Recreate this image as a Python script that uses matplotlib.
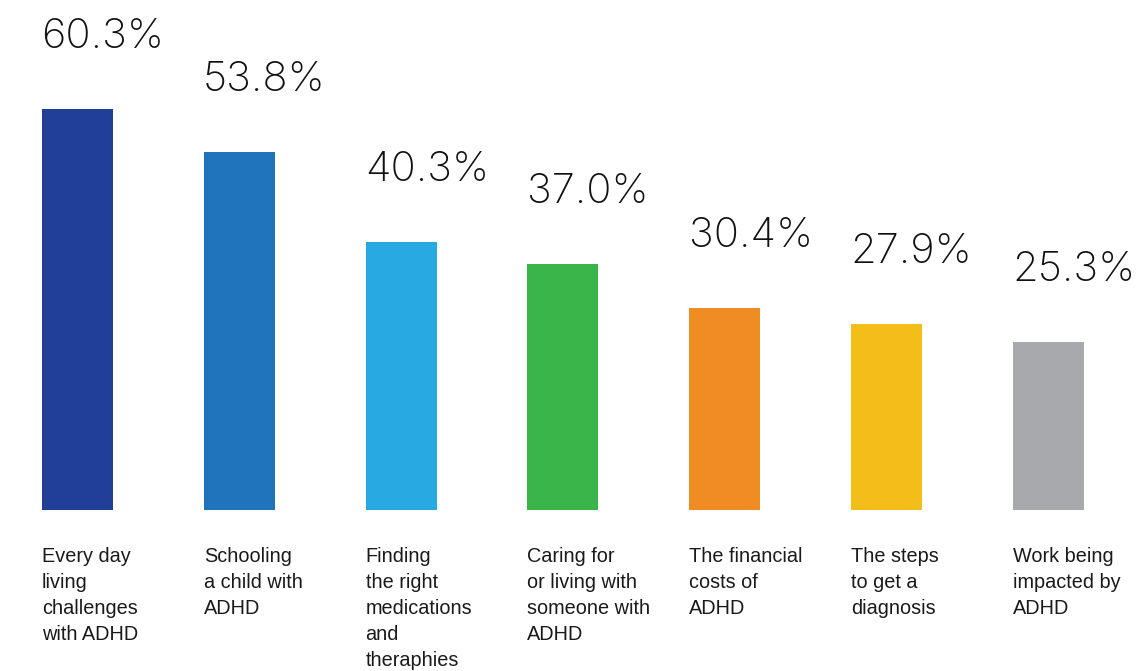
import matplotlib
matplotlib.use("Agg")
import matplotlib.pyplot as plt
import matplotlib.transforms as mtransforms

categories = [
    "Every day\nliving\nchallenges\nwith ADHD",
    "Schooling\na child with\nADHD",
    "Finding\nthe right\nmedications\nand\ntheraphies",
    "Caring for\nor living with\nsomeone with\nADHD",
    "The financial\ncosts of\nADHD",
    "The steps\nto get a\ndiagnosis",
    "Work being\nimpacted by\nADHD",
]
values = [60.3, 53.8, 40.3, 37.0, 30.4, 27.9, 25.3]
colors = ["#223F98", "#1F74BC", "#29A9E1", "#3AB54A", "#EF8C23", "#F3BE1A", "#A7A9AC"]

W, H = 1137, 671
fig = plt.figure(figsize=(W / 100, H / 100), dpi=100)

base_px = 510      # baseline of bars from top
top_scale = 6.65   # px per percent
spacing = 161.8
first_center = 77.5
bar_w = 71 / spacing

ax = fig.add_axes([0, (H - base_px) / H, 1, base_px / H])
ax.set_xlim(-first_center / spacing, (W - first_center) / spacing)
ax.set_ylim(0, base_px / top_scale)
ax.axis("off")

xs = list(range(len(values)))
ax.bar(xs, values, width=bar_w, color=colors, align="center")

for x, v in zip(xs, values):
    ax.annotate(f"{v:.1f}%", xy=(x - bar_w / 2, v), xytext=(-0.5, 61 * 0.72),
                textcoords="offset points", ha="left", va="baseline",
                fontsize=30.0, family="Inter", fontweight=200, color="#111111")

trans = mtransforms.blended_transform_factory(ax.transData, ax.transAxes)
for x, lab in zip(xs, categories):
    ax.text(x - bar_w / 2, -37 / base_px, lab, transform=trans, ha="left", va="top",
            fontsize=14.3, family="Liberation Sans", color="#1a1a1a", linespacing=1.46)

fig.savefig("out.png", dpi=100, facecolor="white")
